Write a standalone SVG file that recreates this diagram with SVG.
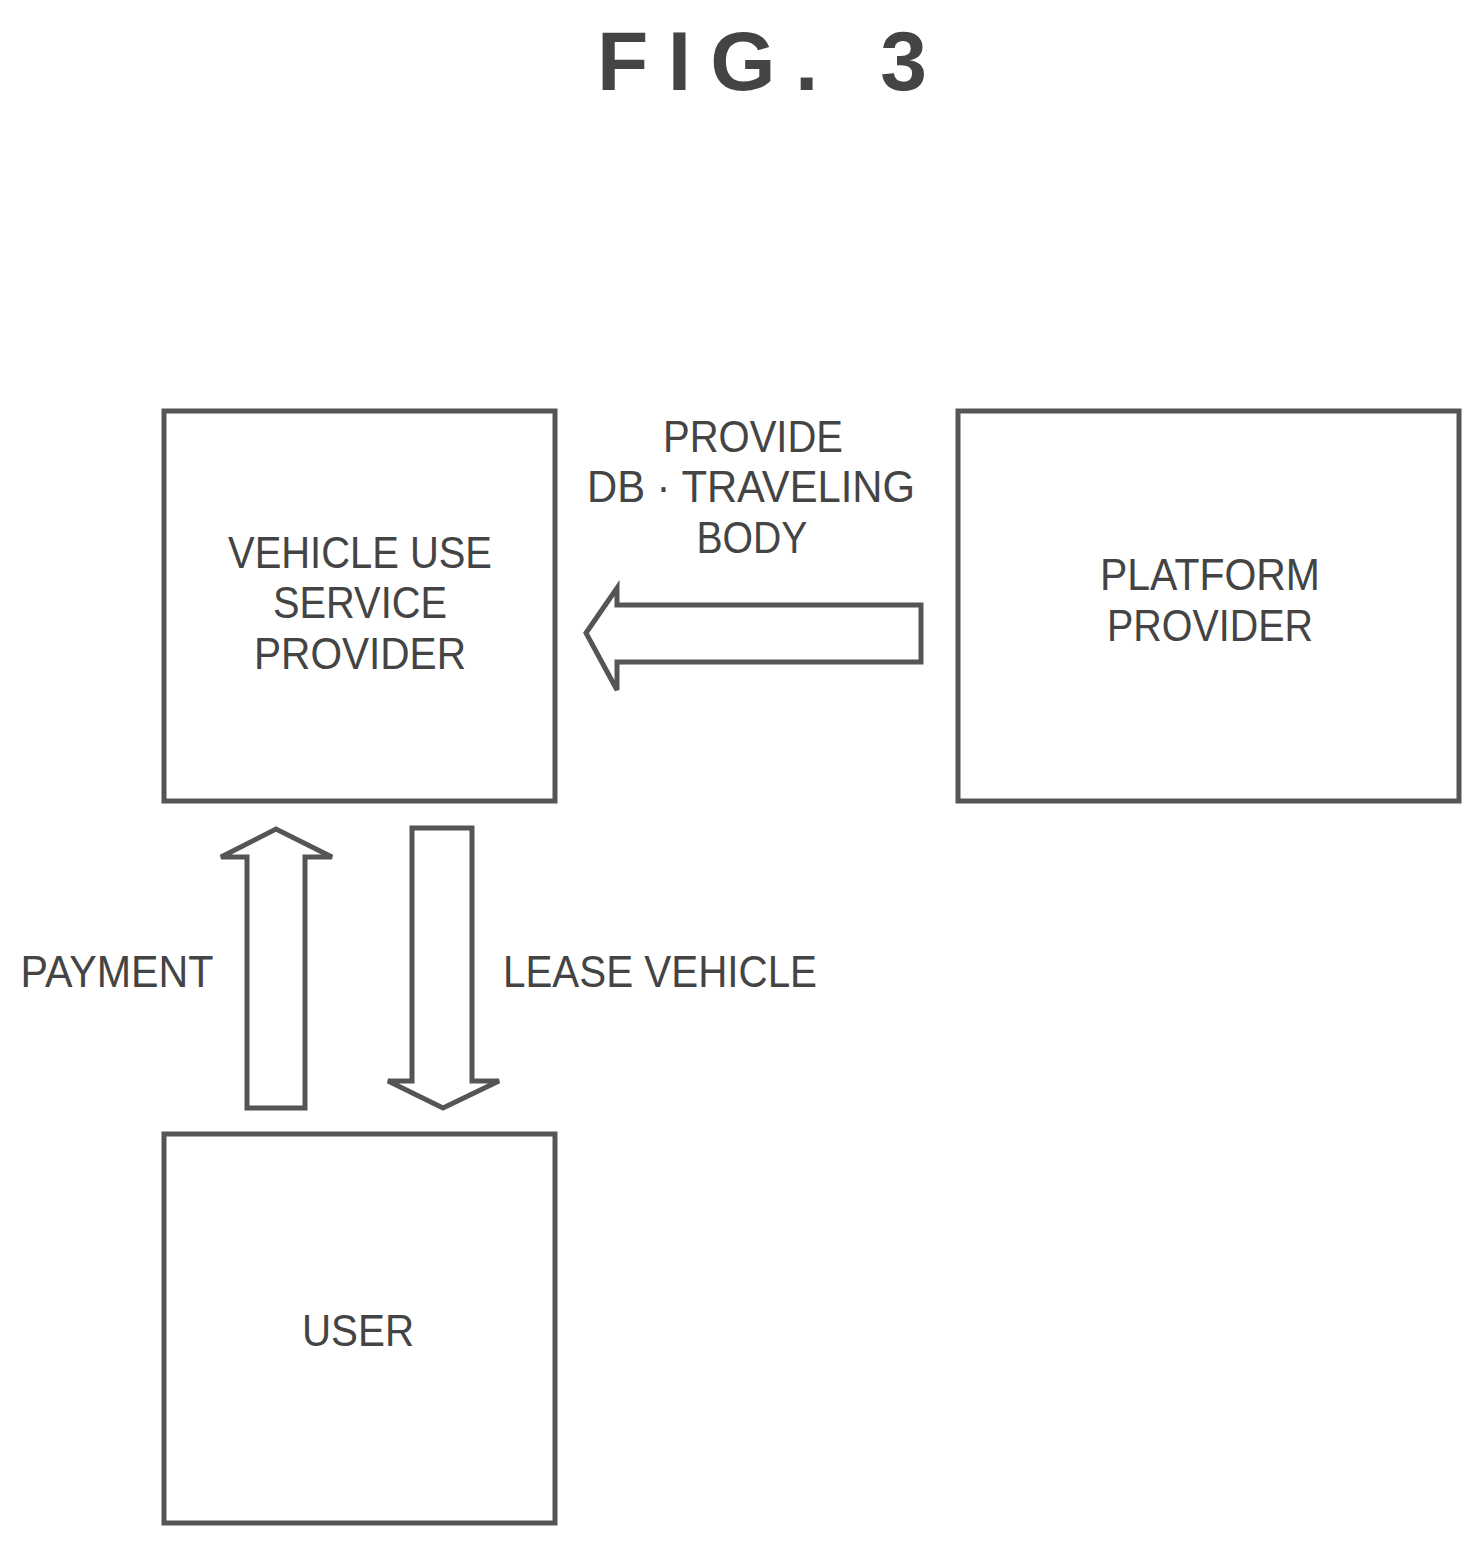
<svg xmlns="http://www.w3.org/2000/svg" width="1483" height="1547" viewBox="0 0 1483 1547">
<style>
.b{fill:none;stroke:#555;stroke-width:5}
.a{fill:#fff;stroke:#555;stroke-width:5;stroke-linejoin:miter}
text{font-family:"Liberation Sans",Arial,sans-serif;font-size:44px;fill:#444;text-anchor:middle}
.t{font-size:84px;font-weight:bold}
</style>
<rect width="1483" height="1547" fill="#fff"/>
<text class="t" x="762" y="90" textLength="330" lengthAdjust="spacing">FIG. 3</text>
<g id="vusp"><rect class="b" x="164" y="411" width="391" height="390"/>
<text x="360" y="568" textLength="264" lengthAdjust="spacingAndGlyphs">VEHICLE USE</text>
<text x="360" y="618" textLength="174" lengthAdjust="spacingAndGlyphs">SERVICE</text>
<text x="360" y="669" textLength="212" lengthAdjust="spacingAndGlyphs">PROVIDER</text></g>
<g id="platform"><rect class="b" x="958" y="411" width="501" height="390"/>
<text x="1210" y="590" textLength="220" lengthAdjust="spacingAndGlyphs">PLATFORM</text>
<text x="1210" y="641" textLength="206" lengthAdjust="spacingAndGlyphs">PROVIDER</text></g>
<g id="user"><rect class="b" x="164" y="1134" width="391" height="389"/>
<text x="358" y="1346" textLength="112" lengthAdjust="spacingAndGlyphs">USER</text></g>
<g id="connectors">
<path class="a" d="M921,605 L617,605 L617,588 L586,633 L617,690 L617,662 L921,662 Z"/>
<path class="a" d="M247,1108 L247,857 L221,857 L276,829 L332,857 L305,857 L305,1108 Z"/>
<path class="a" d="M412,828 L472,828 L472,1081 L499,1081 L443,1108 L388,1081 L412,1081 Z"/>
<text x="753" y="452" textLength="180" lengthAdjust="spacingAndGlyphs">PROVIDE</text>
<text x="751" y="502" textLength="328" lengthAdjust="spacingAndGlyphs">DB · TRAVELING</text>
<text x="752" y="553" textLength="111" lengthAdjust="spacingAndGlyphs">BODY</text>
<text x="117" y="987" textLength="193" lengthAdjust="spacingAndGlyphs">PAYMENT</text>
<text x="660" y="987" textLength="314" lengthAdjust="spacingAndGlyphs">LEASE VEHICLE</text>
</g>
</svg>
